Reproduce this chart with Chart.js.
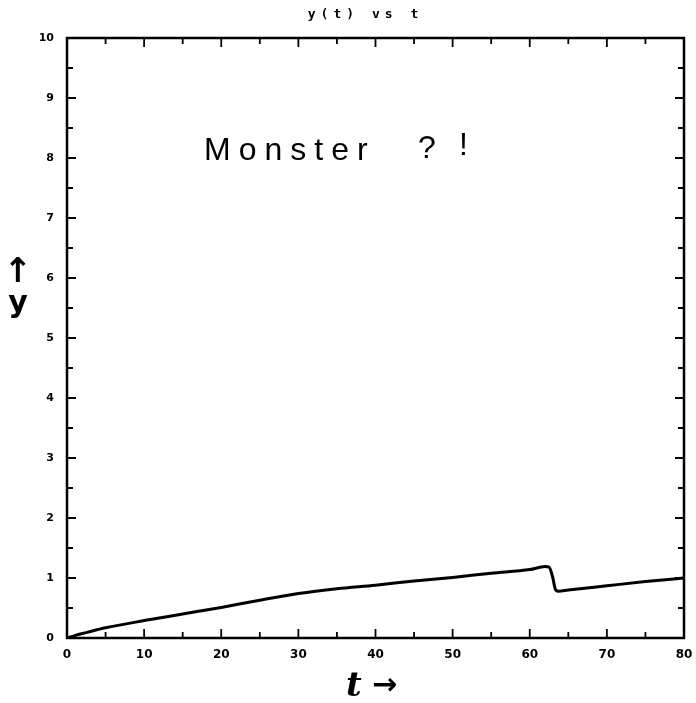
<!DOCTYPE html>
<html><head><meta charset="utf-8">
<script src="https://cdn.jsdelivr.net/npm/chart.js@4/dist/chart.umd.min.js"></script>
<style>html,body{margin:0;padding:0;background:#fff}#wrap{width:696px;height:703px;position:relative}</style>
</head><body><div id="wrap"><canvas id="c"></canvas></div>
<script>
const tValues = [0, 1, 2.5, 5, 10, 15, 20, 25, 30, 35, 40, 45, 50, 55, 60, 62, 62.5, 63, 63.3, 63.7, 65, 70, 75, 80];
const yValues = [0, 0.04, 0.09, 0.17, 0.29, 0.40, 0.51, 0.63, 0.74, 0.82, 0.88, 0.95, 1.01, 1.08, 1.14, 1.19, 1.18, 1.0, 0.82, 0.78, 0.80, 0.87, 0.94, 1.0];
const xTickValues = [0, 10, 20, 30, 40, 50, 60, 70, 80];
const yTickValues = [0, 1, 2, 3, 4, 5, 6, 7, 8, 9, 10];
const titleText = 'y(t) vs t';
const noteWord = 'Monster';
const noteMarks = ['?', '!'];
const xAxisTitle = 't';
const yAxisTitle = 'y';

const framePlugin = {
  id: 'frame',
  afterDraw(chart) {
    const {ctx, chartArea: {left, right, top, bottom}, scales: {x, y}} = chart;
    ctx.save();
    ctx.strokeStyle = '#000';
    ctx.lineWidth = 2.5;
    ctx.strokeRect(left, top, right - left, bottom - top);
    ctx.lineWidth = 1.8;
    for (let v = 0; v <= 80; v += 5) {
      const px = x.getPixelForValue(v);
      const len = v % 10 === 0 ? 9 : 6;
      ctx.beginPath();
      ctx.moveTo(px, bottom); ctx.lineTo(px, bottom - len);
      ctx.moveTo(px, top); ctx.lineTo(px, top + len);
      ctx.stroke();
    }
    for (let v = 0; v <= 10; v += 0.5) {
      const py = y.getPixelForValue(v);
      const len = Number.isInteger(v) ? 9 : 6;
      ctx.beginPath();
      ctx.moveTo(left, py); ctx.lineTo(left + len, py);
      ctx.moveTo(right, py); ctx.lineTo(right - len, py);
      ctx.stroke();
    }
    // title
    ctx.fillStyle = '#000';
    ctx.textAlign = 'center';
    ctx.textBaseline = 'middle';
    ctx.font = 'bold 13px "DejaVu Sans Mono"';
    ctx.letterSpacing = '5px';
    ctx.fillText(titleText, (left + right) / 2 - 10, 15);
    // handwritten note
    ctx.letterSpacing = '8px';
    ctx.textAlign = 'left';
    ctx.textBaseline = 'alphabetic';
    ctx.font = '32px "Liberation Sans"';
    ctx.fillText(noteWord, 204, 160);
    ctx.fillText(noteMarks[0], 418, 158);
    ctx.fillText(noteMarks[1], 459, 155);
    // axis titles
    ctx.letterSpacing = '0px';
    ctx.font = 'italic bold 34px "DejaVu Serif"';
    ctx.fillText(xAxisTitle, 346, 696);
    ctx.font = 'bold 30px "DejaVu Sans"';
    ctx.fillText('\u2192', 372, 694);
    ctx.textAlign = 'center';
    ctx.font = 'bold 34px "DejaVu Sans"';
    ctx.fillText('\u2191', 18, 282);
    ctx.font = 'bold 30px "DejaVu Sans"';
    ctx.fillText(yAxisTitle, 18, 312);
    ctx.restore();
  }
};

new Chart(document.getElementById('c'), {
  type: 'line',
  data: {
    datasets: [{
      data: tValues.map((t, i) => ({x: t, y: yValues[i]})),
      borderColor: '#000',
      borderWidth: 3,
      pointRadius: 0,
      fill: false,
      cubicInterpolationMode: 'monotone'
    }]
  },
  options: {
    responsive: true,
    maintainAspectRatio: false,
    animation: false,
    layout: {padding: {top: 38, right: 12, left: 0, bottom: 0}},
    plugins: {legend: {display: false}, tooltip: {enabled: false}, title: {display: false}},
    scales: {
      x: {
        type: 'linear', min: 0, max: 80,
        afterBuildTicks: s => { s.ticks = xTickValues.map(v => ({value: v})); },
        afterFit: s => { s.height = 65; s.paddingRight = 0; s.paddingLeft = 0; },
        grid: {display: false, drawTicks: false},
        border: {display: false},
        ticks: {color: '#000', font: {family: '"DejaVu Sans"', weight: 'bold', size: 12}, padding: 10, maxRotation: 0}
      },
      y: {
        type: 'linear', min: 0, max: 10,
        afterBuildTicks: s => { s.ticks = yTickValues.map(v => ({value: v})); },
        afterFit: s => { s.width = 67; },
        grid: {display: false, drawTicks: false},
        border: {display: false},
        ticks: {color: '#000', font: {family: '"DejaVu Sans"', weight: 'bold', size: 11}, padding: 13}
      }
    }
  },
  plugins: [framePlugin]
});
</script>
</body></html>
